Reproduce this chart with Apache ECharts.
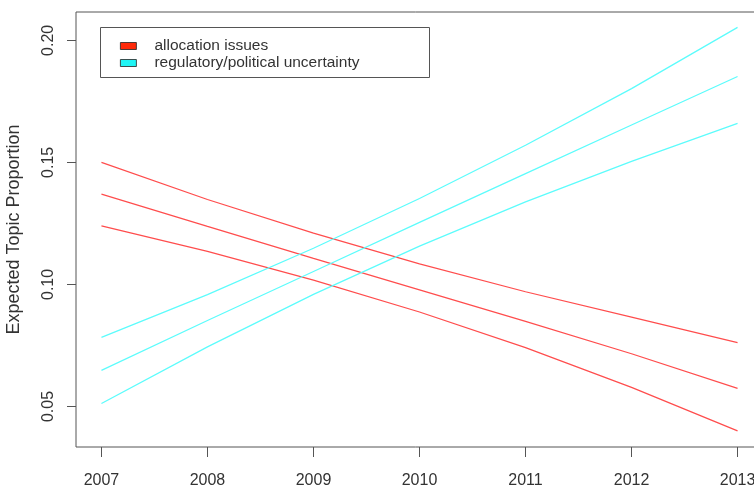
<!DOCTYPE html>
<html>
<head>
<meta charset="utf-8">
<script src="https://cdn.jsdelivr.net/npm/echarts@6/dist/echarts.min.js"></script>
<style>
  html, body { margin: 0; padding: 0; background: #fff; }
  #chart { width: 754px; height: 490px; }
</style>
</head>
<body>
<div id="chart"></div>
<script>
// years on the x axis
const years = [2007, 2008, 2009, 2010, 2011, 2012, 2013];

// allocation issues: mean and confidence bounds
const allocMean = [0.137, 0.1238, 0.1107, 0.0978, 0.0849, 0.0716, 0.0574];
const allocUpper = [0.150, 0.1348, 0.1210, 0.1084, 0.0970, 0.0866, 0.0762];
const allocLower = [0.124, 0.1135, 0.1018, 0.0887, 0.0741, 0.0578, 0.040];

// regulatory/political uncertainty: mean and confidence bounds
const regMean = [0.0648, 0.0852, 0.1053, 0.1254, 0.1454, 0.1653, 0.1852];
const regUpper = [0.0783, 0.0958, 0.1148, 0.1352, 0.1570, 0.1802, 0.2053];
const regLower = [0.0512, 0.0744, 0.0959, 0.1157, 0.1338, 0.1504, 0.166];

// tick labels
const xTicks = [2007, 2008, 2009, 2010, 2011, 2012, 2013];
const yTicks = [0.05, 0.10, 0.15, 0.20];

const allocName = 'allocation issues';
const regName = 'regulatory/political uncertainty';
const red = '#ff4d4d';
const cyan = '#5cfcfc';
const font = 'Liberation Sans, Arial, sans-serif';

const myChart = echarts.init(document.getElementById('chart'));

const makeLine = (name, color, values) => ({
  name: name,
  type: 'line',
  data: years.map((y, i) => [y, values[i]]),
  showSymbol: false,
  silent: true,
  lineStyle: { color: color, width: 1.25 },
  itemStyle: { color: color },
});

const option = {
  animation: false,
  backgroundColor: '#fff',
  grid: {
    left: 76,
    top: 12,
    right: -9,
    bottom: 43,
    show: true,
    borderColor: '#555',
    borderWidth: 1,
    outerBoundsMode: 'none',
  },
  legend: {
    orient: 'vertical',
    left: 115,
    top: 33,
    itemWidth: 16,
    itemHeight: 7,
    itemGap: 1,
    icon: 'rect',
    selectedMode: false,
    itemStyle: { borderColor: '#222', borderWidth: 0.8 },
    textStyle: { fontFamily: font, fontSize: 15.5, color: '#333', padding: [0, 0, 0, 13] },
    data: [
      { name: allocName, itemStyle: { color: '#ff2a0a' } },
      { name: regName, itemStyle: { color: '#1ff5f5' } },
    ],
  },
  graphic: [
    {
      type: 'rect',
      shape: { x: 100.5, y: 27.5, width: 329, height: 50 },
      style: { fill: 'none', stroke: '#555', lineWidth: 1 },
      silent: true,
    },
  ],
  xAxis: {
    type: 'value',
    min: 2006.76,
    max: 2013.24,
    axisLine: { show: false },
    splitLine: { show: false },
    axisTick: { show: true, length: 10, lineStyle: { color: '#555' }, customValues: xTicks },
    axisLabel: {
      fontFamily: font,
      fontSize: 16,
      color: '#333',
      margin: 26,
      customValues: xTicks,
      formatter: (v) => String(Math.round(v)),
    },
  },
  yAxis: {
    type: 'value',
    min: 0.0334,
    max: 0.2116,
    name: 'Expected Topic Proportion',
    nameLocation: 'middle',
    nameGap: 53,
    nameTextStyle: { fontFamily: font, fontSize: 18, color: '#333' },
    axisLine: { show: false },
    splitLine: { show: false },
    axisTick: { show: true, length: 9, lineStyle: { color: '#555' }, customValues: yTicks },
    axisLabel: {
      fontFamily: font,
      fontSize: 16,
      color: '#333',
      rotate: 90,
      margin: 19,
      customValues: yTicks,
      formatter: (v) => v.toFixed(2),
    },
  },
  series: [
    makeLine(allocName, red, allocMean),
    makeLine(allocName, red, allocUpper),
    makeLine(allocName, red, allocLower),
    makeLine(regName, cyan, regMean),
    makeLine(regName, cyan, regUpper),
    makeLine(regName, cyan, regLower),
  ],
};

myChart.setOption(option);
</script>
</body>
</html>
